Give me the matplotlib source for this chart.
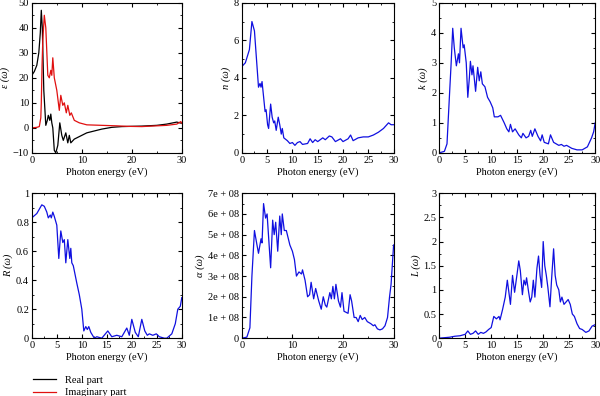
import numpy as np
import matplotlib.pyplot as plt
from matplotlib.ticker import AutoMinorLocator

plt.rcParams['font.family'] = ['Liberation Serif', 'DejaVu Serif']
plt.rcParams['font.size'] = 7.5

# dielectric function
e_x = [0, 0.5, 1.0, 1.4, 1.7, 1.9, 2.1, 2.4, 2.8, 3.1, 3.3, 3.6, 3.8, 4.0, 4.2, 4.5, 4.8, 5.2,
       5.6, 6.0, 6.3, 6.8, 7.2, 7.5, 7.8, 8.5, 9.5, 10, 11, 12, 13, 14, 16, 18, 20, 22, 25, 27, 29, 30]
e_re = [21, 22.5, 25, 30, 38, 47, 40, 15, 1, 3, 5, 3, 5.5, 2, 0, -9, -10, -7,
        2, -3, -5, -2, -6, -3, -6, -4.5, -3.5, -3, -2, -1.5, -1, -0.5, 0.2, 0.5, 0.6, 0.7, 1.0, 1.5, 2.3, 1.8]
i_x = [0, 1.0, 1.5, 1.8, 1.9, 2.05, 2.2, 2.5, 2.8, 3.2, 3.5, 3.8, 4.0, 4.2, 4.5, 5.0, 5.5, 5.8,
       6.2, 6.5, 6.9, 7.2, 7.6, 7.9, 8.5, 9.5, 11, 14, 17, 19, 22, 25, 27, 29, 29.8, 30]
e_im = [0, 0.2, 0.5, 4, 10, 25, 35, 45, 40, 21, 20, 23, 21, 28, 20, 15, 7, 13,
        9, 10, 6, 9, 5, 6, 3, 2, 1.2, 1.0, 0.8, 0.6, 0.5, 0.8, 1.0, 1.5, 2.5, 1.8]

# refractive index
n_x = [0, 0.7, 1.5, 2.0, 2.5, 2.9, 3.3, 3.6, 3.8, 4.0, 4.3, 4.6, 4.8, 5.1, 5.3, 5.7, 6.0, 6.3,
       6.5, 6.8, 7.2, 7.5, 7.8, 8.0, 8.3, 9, 9.5, 10, 10.5, 11, 11.5, 12, 13, 13.5, 14, 14.5, 15,
       16, 16.5, 17.3, 17.8, 18.5, 19.5, 20, 21, 21.5, 22, 23, 24, 25, 26, 27, 28, 29, 29.5, 30]
n_y = [4.6, 4.8, 5.5, 7.0, 6.5, 5.0, 3.5, 3.7, 3.5, 3.8, 3.0, 2.2, 2.3, 1.5, 1.3, 2.6, 1.9, 1.6,
       1.7, 1.2, 1.9, 1.5, 1.0, 1.3, 0.8, 0.65, 0.5, 0.55, 0.4, 0.55, 0.6, 0.45, 0.5, 0.75, 0.55, 0.7, 0.6,
       0.8, 0.7, 0.9, 0.85, 0.6, 0.75, 0.6, 0.75, 0.95, 0.65, 0.8, 0.85, 0.85, 0.95, 1.1, 1.3, 1.6, 1.5, 1.5]

# extinction coefficient
k_x = [0, 1, 1.5, 2.0, 2.3, 2.6, 2.9, 3.3, 3.7, 3.9, 4.2, 4.6, 4.8, 5.2, 5.5, 5.8, 6.0, 6.3, 6.5,
       7.0, 7.4, 7.7, 8.0, 8.3, 8.8, 9.3, 9.8, 10.3, 10.6, 11.3, 11.8, 12.5, 13, 13.4, 13.7, 14.1,
       14.6, 15.3, 15.8, 16.1, 16.7, 17.2, 17.6, 17.9, 18.4, 19, 19.5, 19.8, 20.2, 21, 21.4, 22,
       23, 23.5, 24, 24.5, 25.5, 26.5, 27.5, 28.5, 29.3, 29.7, 30]
k_y = [0, 0.05, 0.3, 2.0, 3.0, 4.15, 3.5, 2.9, 3.3, 3.0, 4.15, 3.5, 3.6, 3.0, 1.85, 2.5, 3.05, 2.6, 2.9,
       2.05, 2.85, 2.4, 2.7, 2.3, 2.2, 1.85, 1.7, 1.5, 1.2, 1.2, 1.25, 1.0, 0.8, 0.7, 0.95, 0.7,
       0.8, 0.6, 0.5, 0.65, 0.5, 0.55, 0.75, 0.55, 0.8, 0.55, 0.4, 0.6, 0.35, 0.3, 0.6, 0.35,
       0.25, 0.28, 0.22, 0.25, 0.15, 0.1, 0.1, 0.2, 0.5, 0.7, 1.0]

# reflectivity
r_x = [0, 1, 2, 2.5, 3, 3.3, 3.7, 3.9, 4.2, 4.5, 5, 5.4, 5.8, 6.2, 6.5, 6.8, 7.2, 7.6, 7.8, 8.0,
       8.3, 9, 9.5, 10, 10.4, 10.8, 11.1, 11.4, 11.8, 12.5, 13, 14, 15.2, 16, 17, 18, 19, 19.5, 20,
       20.7, 21.3, 22.0, 22.6, 23.1, 23.5, 24.2, 24.9, 25.5, 26.5, 27, 28, 28.7, 29.2, 29.7, 30]
r_y = [0.83, 0.86, 0.92, 0.91, 0.87, 0.83, 0.85, 0.83, 0.87, 0.84, 0.78, 0.55, 0.74, 0.66, 0.68, 0.52,
       0.68, 0.55, 0.62, 0.52, 0.5, 0.38, 0.3, 0.2, 0.05, 0.08, 0.06, 0.08, 0.04, 0.0, 0.01, 0.0, 0.05,
       0.01, 0.02, 0.01, 0.07, 0.02, 0.13, 0.04, 0.01, 0.13, 0.05, 0.02, 0.03, 0.02, 0.03, 0.01, 0.0,
       0.0, 0.03, 0.1, 0.2, 0.22, 0.28]

# absorption coefficient (x 1e8)
a_x = [0, 1, 1.6, 2.0, 2.5, 3, 3.3, 3.8, 4.0, 4.3, 4.7, 5.0, 5.4, 5.7, 6.1, 6.4, 6.7, 7.1, 7.5, 7.8,
       8.0, 8.4, 8.8, 9.5, 10, 10.4, 10.8, 11.3, 11.8, 12.0, 12.5, 13, 13.4, 13.7, 14.2, 14.6, 15.2,
       15.7, 16.1, 16.5, 16.8, 17.4, 17.7, 18, 18.3, 18.6, 19.1, 19.5, 19.8, 20.2, 21, 21.4, 21.7,
       22.2, 22.6, 23, 23.4, 23.8, 24.3, 24.8, 25.5, 26, 26.3, 26.8, 27.3, 27.8, 28.3, 28.8, 29.2,
       29.5, 30]
a_y = [0, 0.05, 0.5, 3.0, 5.2, 4.5, 4.1, 4.8, 4.6, 6.5, 5.8, 6.0, 4.5, 3.4, 5.7, 5.0, 5.6, 4.2, 5.9, 5.0,
       6.0, 5.2, 5.2, 4.5, 4.2, 3.8, 3.0, 3.2, 3.1, 3.3, 2.8, 2.0, 2.1, 2.7, 1.9, 2.4, 1.8,
       1.4, 2.0, 1.6, 1.5, 2.2, 1.9, 2.5, 1.9, 2.6, 1.8, 1.5, 2.2, 1.3, 1.2, 2.1, 1.8,
       1.0, 1.0, 0.8, 1.1, 0.9, 1.0, 0.8, 0.7, 0.6, 0.65, 0.45, 0.4, 0.45, 0.6, 1.0, 2.0,
       2.6, 4.5]
a_y = np.array(a_y) * 1e8

# energy loss
l_x = [0, 2, 3, 4, 5, 5.5, 6, 6.5, 7, 7.5, 8, 8.5, 9, 9.5, 10, 10.5, 11, 11.5, 11.7, 12.2, 12.7,
       13.1, 13.4, 13.7, 14.1, 14.5, 15.0, 15.3, 15.6, 16.0, 16.3, 16.6, 16.8, 17.2, 17.5, 17.8,
       18.1, 18.4, 18.8, 19.1, 19.4, 19.7, 20.0, 20.3, 20.6, 20.9, 21.3, 21.6, 22.0, 22.3, 22.6,
       23.0, 23.3, 23.6, 24.0, 24.4, 24.8, 25.2, 25.6, 26, 26.5, 27, 27.5, 28.2, 28.8, 29.4, 30]
l_y = [0, 0.02, 0.04, 0.05, 0.08, 0.15, 0.08, 0.1, 0.15, 0.08, 0.12, 0.1, 0.13, 0.18, 0.22, 0.45, 0.4,
       0.45, 0.38, 0.6, 0.85, 1.2, 0.95, 0.7, 1.3, 0.95, 1.35, 1.6, 1.4, 0.9, 1.2, 1.1, 1.25, 0.95,
       0.75, 0.85, 1.2, 0.85, 1.45, 1.7, 1.3, 1.05, 2.0, 1.5, 1.3, 1.05, 0.65, 1.2, 1.85, 1.3, 1.1,
       1.0, 0.75, 0.85, 0.7, 0.75, 0.8, 0.7, 0.5, 0.45, 0.3, 0.2, 0.18, 0.12, 0.15, 0.25, 0.28]

fig = plt.figure(figsize=(6, 3.96), dpi=100)
lefts = [0.053, 0.403, 0.732]
widths = [0.25, 0.253, 0.26]
top_b, top_h = 0.614, 0.379
bot_b, bot_h = 0.146, 0.366

axes = []
for row in range(2):
    for col in range(3):
        if row == 0:
            ax = fig.add_axes([lefts[col], top_b, widths[col], top_h])
        else:
            ax = fig.add_axes([lefts[col], bot_b, widths[col], bot_h])
        axes.append(ax)

blue = '#1010e0'
ax = axes[0]
l1, = ax.plot(e_x, e_re, color='black', lw=0.9, label='Real part')
l2, = ax.plot(i_x, e_im, color='#e01010', lw=0.9, label='Imaginary part')
ax.set_ylim(-10, 50)
ax.set_xticks([0, 10, 20, 30])
ax.set_ylabel('ε (ω)', style='italic')

axes[1].plot(n_x, n_y, color=blue, lw=0.9)
axes[1].set_ylim(0, 8)
axes[1].set_yticks([0, 2, 4, 6, 8])
axes[1].set_xticks([0, 5, 10, 15, 20, 25, 30])
axes[1].set_ylabel('n (ω)', style='italic')

axes[2].plot(k_x, k_y, color=blue, lw=0.9)
axes[2].set_ylim(0, 5)
axes[2].set_xticks([0, 5, 10, 15, 20, 25, 30])
axes[2].set_ylabel('k (ω)', style='italic')

axes[3].plot(r_x, r_y, color=blue, lw=0.9)
axes[3].set_ylim(0, 1)
axes[3].set_yticks([0, 0.2, 0.4, 0.6, 0.8, 1])
axes[3].set_yticklabels(['0', '0.2', '0.4', '0.6', '0.8', '1'])
axes[3].set_xticks([0, 5, 10, 15, 20, 25, 30])
axes[3].set_ylabel('R (ω)', style='italic')

axes[4].plot(a_x, a_y, color=blue, lw=0.9)
axes[4].set_ylim(0, 7e8)
yt = np.arange(0, 8) * 1e8
axes[4].set_yticks(yt)
axes[4].set_yticklabels(['0'] + ['%de + 08' % i for i in range(1, 8)])
axes[4].set_xticks([0, 10, 20, 30])
axes[4].set_ylabel('α (ω)', style='italic')

axes[5].plot(l_x, l_y, color=blue, lw=0.9)
axes[5].set_ylim(0, 3)
axes[5].set_yticks([0, 0.5, 1, 1.5, 2, 2.5, 3])
axes[5].set_yticklabels(['0', '0.5', '1', '1.5', '2', '2.5', '3'])
axes[5].set_xticks([0, 5, 10, 15, 20, 25, 30])
axes[5].set_ylabel('L (ω)', style='italic')

for ax in axes:
    ax.set_xlim(0, 30)
    ax.set_xlabel('Photon energy (eV)', labelpad=2)
    ax.xaxis.set_minor_locator(AutoMinorLocator(2))
    ax.yaxis.set_minor_locator(AutoMinorLocator(2))
    ax.tick_params(which='both', direction='in', top=True, right=True, pad=2)
    ax.tick_params(which='major', length=3)
    ax.tick_params(which='minor', length=1.5)
    ax.yaxis.labelpad = 2

fig.legend(handles=[l1, l2], loc='upper left', bbox_to_anchor=(0.04, 0.075),
           frameon=False, fontsize=7.5, handlelength=2.2, labelspacing=0.3)

plt.savefig('out.png', dpi=100)
